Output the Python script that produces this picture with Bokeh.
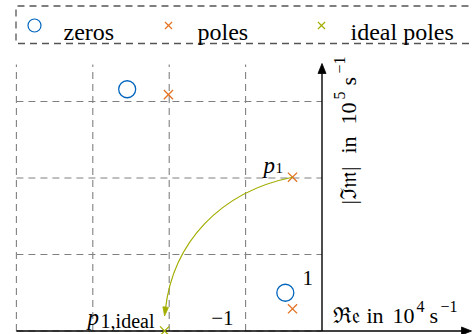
import math
from bokeh.plotting import figure
from bokeh.models import Range1d
from bokeh.core.properties import value
from bokeh.embed import file_html
from bokeh.resources import INLINE

# Pole/zero map: real part in 1e4 1/s, imaginary magnitude in 1e5 1/s
zeros_re = [-2.55, -0.48]
zeros_im = [3.16, 0.50]
poles_re = [-2.01, -0.386, -0.386]
poles_im = [3.09, 2.01, 0.29]
ideal_re = [-2.06]
ideal_im = [0.0]

# the pole that is moved towards its ideal position
moved_pole = 1

x_grid = [-4, -3, -2, -1]
y_grid = [0, 1, 2, 3]
x_ticks = [-1]
x_tick_labels = ["\u22121"]
y_ticks = [1]
y_tick_labels = ["1"]

legend_labels = ["zeros", "poles", "ideal poles"]

BLUE = "#0065BD"
ORANGE = "#E37222"
GREEN = "#A2AD00"
GRID = "#808080"
FONT = value("Liberation Serif")

W, H = 472, 334
SX, SY = 76.4, 76.5          # pixels per unit
OX, OY = 321.5, 330.5        # pixel position of the origin


def X(px):
    return (px - OX) / SX


def Y(py):
    return (OY - py) / SY


p = figure(width=W, height=H, output_backend="svg", toolbar_location=None,
           x_axis_type=None, y_axis_type=None, min_border=0,
           x_range=Range1d(X(0), X(W)), y_range=Range1d(Y(H), Y(0)))
p.outline_line_color = None
p.background_fill_color = "white"
p.border_fill_color = "white"


def head(tx, ty, ang, length, half):
    """Narrow triangular arrow head with its tip at (tx, ty), pointing along ang."""
    ca, sa = math.cos(ang), math.sin(ang)
    bx, by = tx - length * ca / SX, ty - length * sa / SY
    nx, ny = -sa, ca
    return ([tx, bx + half * nx / SX, bx - half * nx / SX],
            [ty, by + half * ny / SY, by - half * ny / SY])


def label(x, y, s, size, **kw):
    p.text(x=[x], y=[y], text=[s], text_font=FONT, text_font_size=size,
           text_baseline="alphabetic", **kw)


# dashed grid
top = Y(64)
p.segment(x0=x_grid, y0=[0] * len(x_grid), x1=x_grid, y1=[top] * len(x_grid),
          line_color=GRID, line_dash="7 5", line_width=1.1)
p.segment(x0=[-4] * len(y_grid), y0=y_grid, x1=[0] * len(y_grid), y1=y_grid,
          line_color=GRID, line_dash="7 5", line_width=1.1)

# axes with arrow heads
p.line(x=[-4, X(462)], y=[0, 0], line_color="black", line_width=1.4)
p.line(x=[0, 0], y=[0, Y(72)], line_color="black", line_width=1.4)
hx, hy = head(X(471), 0, 0.0, 10, 4)
p.patch(x=hx, y=hy, fill_color="black", line_color="black", line_width=0.8)
hx, hy = head(0, Y(63), math.pi / 2, 10, 4)
p.patch(x=hx, y=hy, fill_color="black", line_color="black", line_width=0.8)

# zeros and poles
p.scatter(x=zeros_re, y=zeros_im, marker="circle", size=17, fill_color=None,
          line_color=BLUE, line_width=1.3)
p.scatter(x=poles_re, y=poles_im, marker="x", size=13,
          line_color=ORANGE, line_width=1.3)
p.scatter(x=ideal_re, y=ideal_im, marker="x", size=13,
          line_color=GREEN, line_width=1.3)

# bent arrow from the pole to its ideal location
x0, y0 = poles_re[moved_pole], poles_im[moved_pole]
x3, y3 = ideal_re[0], ideal_im[0] + 15 / SY
cx, cy = (x3 - x0) * SX, (y3 - y0) * SY
L = math.hypot(cx, cy)
a = math.atan2(cy, cx)
bend = math.radians(36)
d = 0.3915 * L
c1x, c1y = x0 + d * math.cos(a - bend) / SX, y0 + d * math.sin(a - bend) / SY
c2x, c2y = x3 - d * math.cos(a + bend) / SX, y3 - d * math.sin(a + bend) / SY
end_ang = math.atan2((y3 - c2y) * SY, (x3 - c2x) * SX)
sx_, sy_ = x3 - 7 * math.cos(end_ang) / SX, y3 - 7 * math.sin(end_ang) / SY
p.bezier(x0=[x0], y0=[y0], x1=[sx_], y1=[sy_], cx0=[c1x], cy0=[c1y],
         cx1=[c2x], cy1=[c2y], line_color=GREEN, line_width=1.2)
hx, hy = head(x3, y3, end_ang, 9, 2.8)
p.patch(x=hx, y=hy, fill_color=GREEN, line_color=GREEN, line_width=0.8)

# point labels
label(x0 - 29 / SX, y0 + 12 / SY, "p", "23px", text_font_style="italic")
label(x0 - 17 / SX, y0 + 9 / SY, "1", "15px")
label(ideal_re[0] - 77 / SX, ideal_im[0] + 14 / SY, "p", "23px", text_font_style="italic")
label(ideal_re[0] - 64 / SX, ideal_im[0] + 10 / SY, "1,ideal", "20px")

# tick labels
p.text(x=[0 - 9 / SX] * len(y_ticks), y=[t - 23 / SY for t in y_ticks], text=y_tick_labels,
       text_font=FONT, text_font_size="21px", text_align="right", text_baseline="alphabetic")
p.text(x=[t - 12 / SX for t in x_ticks], y=[0 + 13 / SY] * len(x_ticks), text=x_tick_labels,
       text_font=FONT, text_font_size="21px", text_align="right", text_baseline="alphabetic")

# horizontal axis label: Re in 10^4 s^-1
label(X(332), Y(315), "\u211c\U0001D522", "22px")
label(X(366), Y(315), "in", "22px")
label(X(392), Y(315), "10", "22px")
label(X(416), Y(306), "4", "16px")
label(X(429), Y(315), "s", "22px")
label(X(440), Y(306), "\u22121", "16px")

# vertical axis label: |Im| in 10^5 s^-1 (reads bottom to top)
rot = dict(angle=math.pi / 2)
label(X(348), Y(204), "|\u2111\U0001D52A|", "22px", **rot)
label(X(348), Y(153), "in", "22px", **rot)
label(X(348), Y(124), "10", "22px", **rot)
label(X(339), Y(99), "5", "16px", **rot)
label(X(348), Y(85), "s", "22px", **rot)
label(X(339), Y(73), "\u22121", "16px", **rot)

# legend box
p.line(x=[X(480), X(15.5), X(15.5), X(480)], y=[Y(5.5), Y(5.5), Y(43), Y(43)],
       line_color="#555555", line_dash="7 5", line_width=1.3)
p.scatter(x=[X(34)], y=[Y(25)], marker="circle", size=13, fill_color=None,
          line_color=BLUE, line_width=1.2)
p.scatter(x=[X(168)], y=[Y(25)], marker="x", size=10, line_color=ORANGE, line_width=1.2)
p.scatter(x=[X(321)], y=[Y(25)], marker="x", size=10, line_color=GREEN, line_width=1.2)
p.text(x=[X(63), X(197), X(350)], y=[Y(31)] * 3, text=legend_labels, text_font=FONT,
       text_font_size="24px", text_baseline="alphabetic")

open("out.html", "w").write(file_html(p, INLINE))
